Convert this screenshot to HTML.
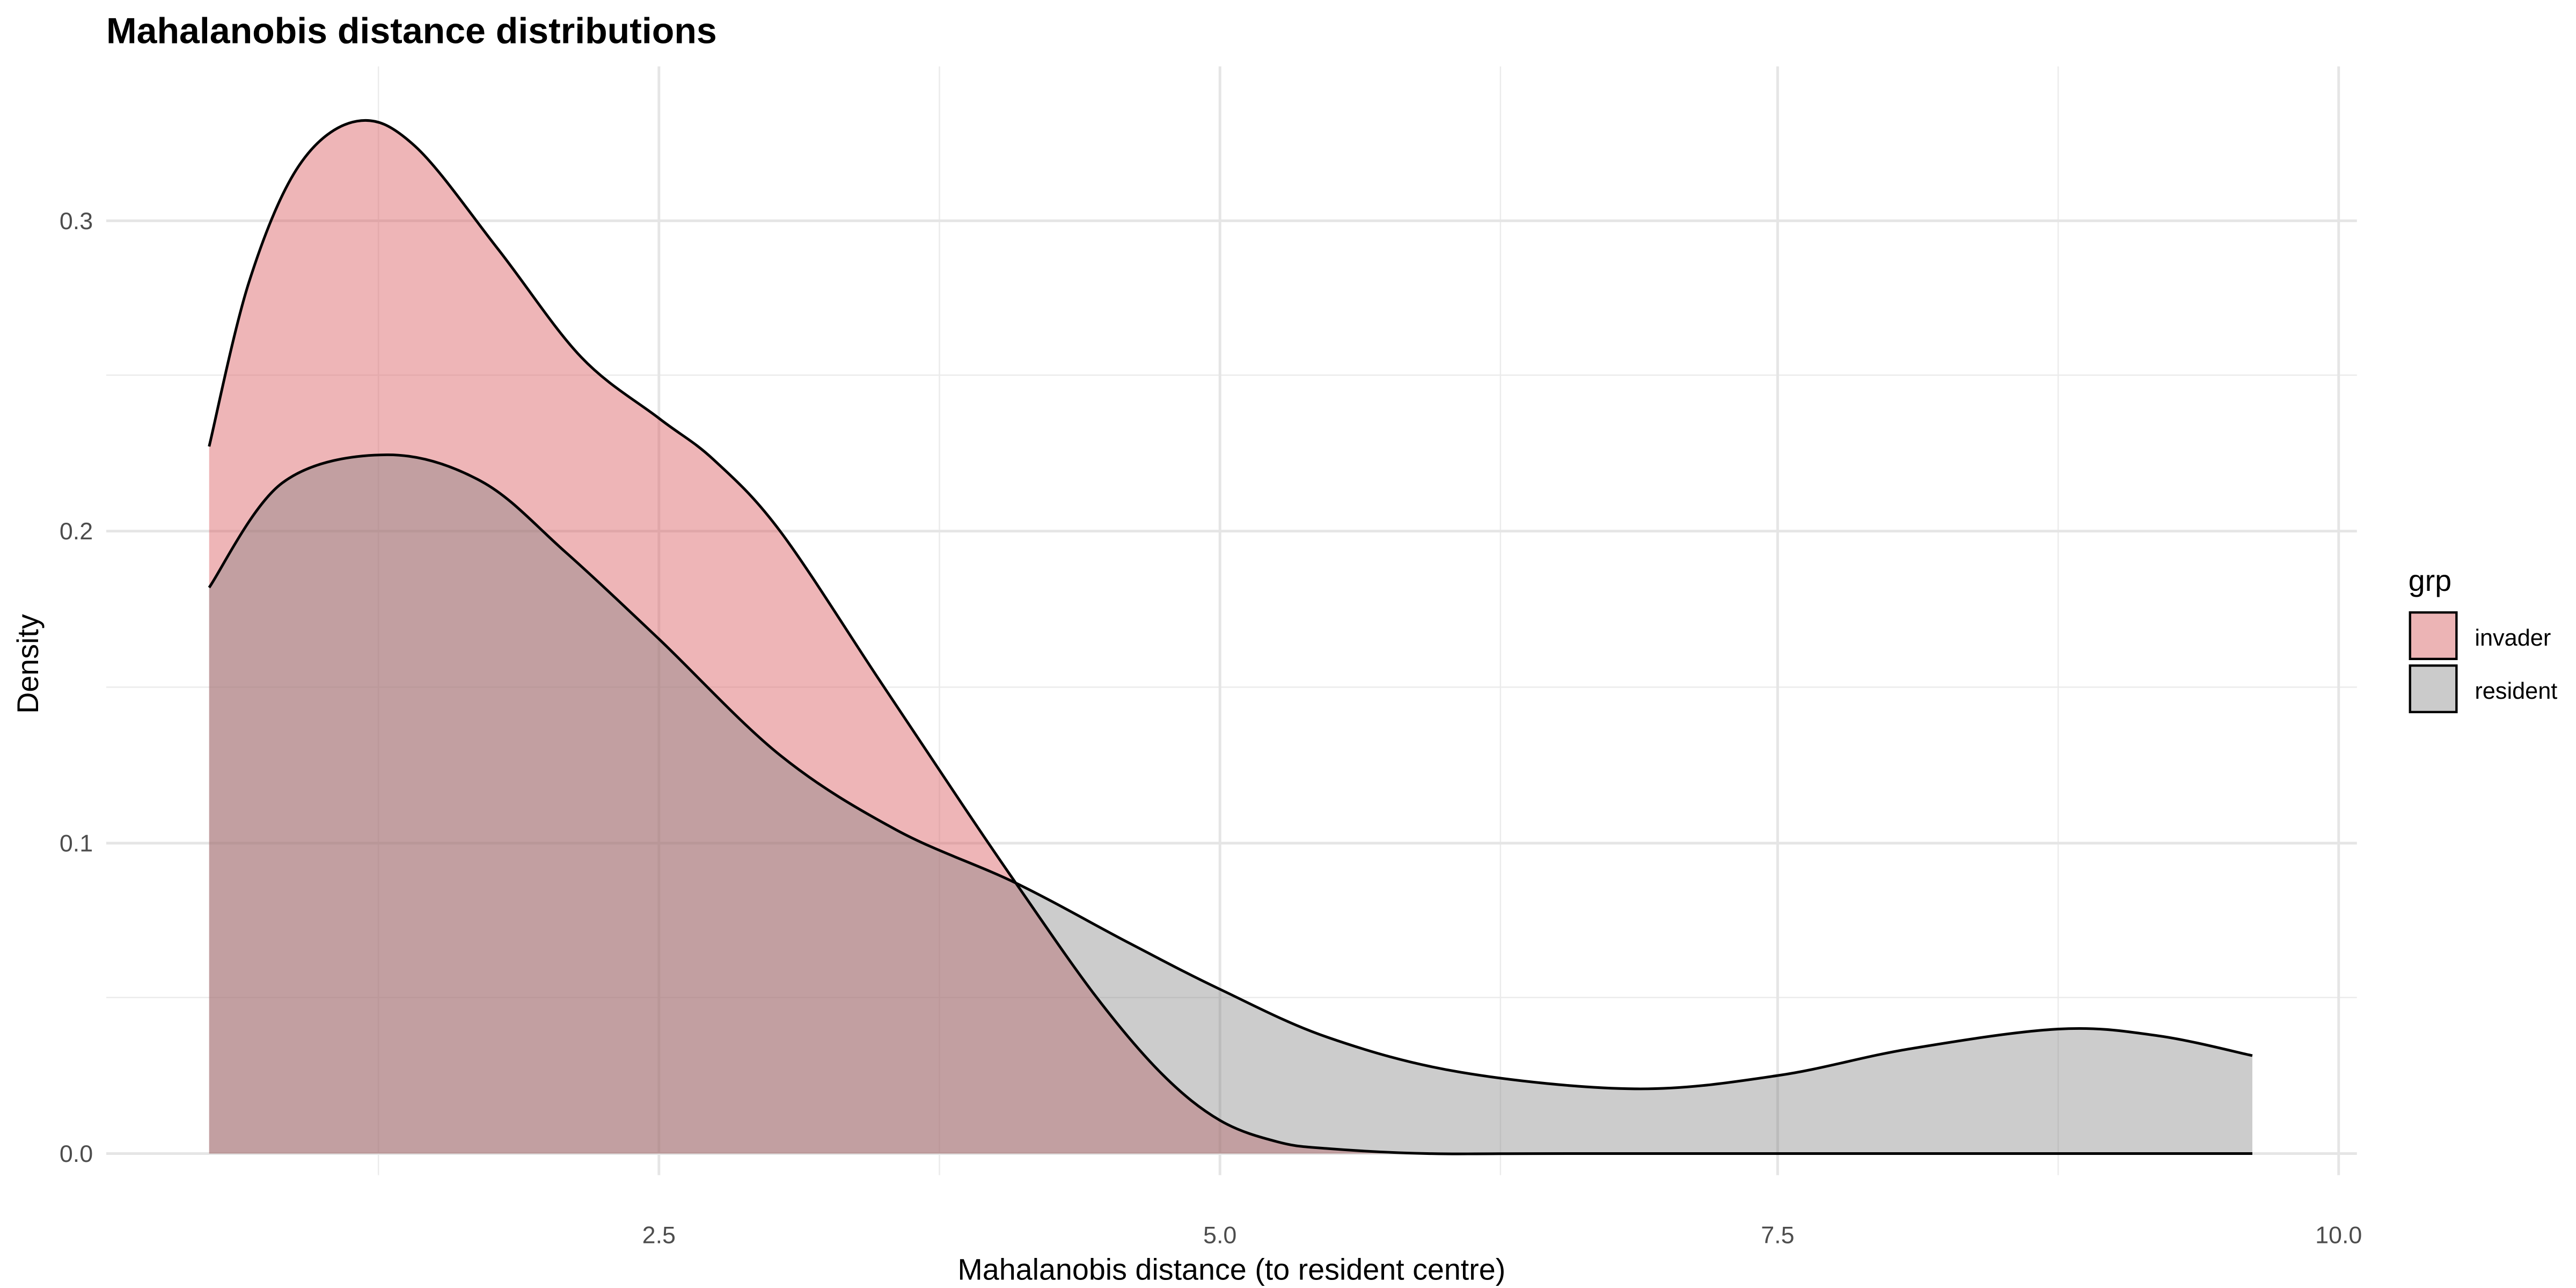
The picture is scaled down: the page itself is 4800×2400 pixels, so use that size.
<!DOCTYPE html>
<html><head><meta charset="utf-8"><style>
html,body{margin:0;padding:0;background:#fff;}
svg{display:block;}
text{font-family:"Liberation Sans",Arial,sans-serif;}
</style></head><body>
<svg id="s" width="4800" height="2400" viewBox="0 0 1552 776" xmlns="http://www.w3.org/2000/svg">
<rect width="1552" height="776" fill="#fff"/>
<g stroke="#ebebeb" stroke-width="0.8">
<line x1="64" x2="1420" y1="601" y2="601"/><line x1="64" x2="1420" y1="414" y2="414"/><line x1="64" x2="1420" y1="226" y2="226"/>
<line x1="228" x2="228" y1="40" y2="708"/><line x1="566" x2="566" y1="40" y2="708"/><line x1="904" x2="904" y1="40" y2="708"/><line x1="1240" x2="1240" y1="40" y2="708"/>
</g>
<g stroke="#e5e5e5" stroke-width="1.6">
<line x1="64" x2="1420" y1="695" y2="695"/><line x1="64" x2="1420" y1="508" y2="508"/><line x1="64" x2="1420" y1="320" y2="320"/><line x1="64" x2="1420" y1="133" y2="133"/>
<line x1="397" x2="397" y1="40" y2="708"/><line x1="735" x2="735" y1="40" y2="708"/><line x1="1071" x2="1071" y1="40" y2="708"/><line x1="1409" x2="1409" y1="40" y2="708"/>
</g>
<path id="inv" fill="rgb(220,100,105)" fill-opacity="0.48" stroke="none"/>
<path id="res" fill="rgb(128,128,128)" fill-opacity="0.4" stroke="none"/>
<path id="invl" fill="none" stroke="#000" stroke-width="1.6"/>
<path id="resl" fill="none" stroke="#000" stroke-width="1.6"/>
<g fill="#4d4d4d" font-size="14.5" text-anchor="end">
<text x="56" y="700">0.0</text><text x="56" y="513">0.1</text><text x="56" y="325">0.2</text><text x="56" y="138">0.3</text>
</g>
<g fill="#4d4d4d" font-size="14.5" text-anchor="middle">
<text x="397" y="749">2.5</text><text x="735" y="749">5.0</text><text x="1071" y="749">7.5</text><text x="1409" y="749">10.0</text>
</g>
<text x="742" y="771" font-size="18" text-anchor="middle" fill="#000">Mahalanobis distance (to resident centre)</text>
<text transform="translate(23,400) rotate(-90)" font-size="18" text-anchor="middle" fill="#000">Density</text>
<text x="64" y="26" font-size="22" font-weight="bold" fill="#000">Mahalanobis distance distributions</text>
<text x="1451" y="356" font-size="18" fill="#000">grp</text>
<rect x="1452" y="369" width="28" height="28" fill="#ecb4b5" stroke="#000" stroke-width="1.4"/>
<rect x="1452" y="401" width="28" height="28" fill="#cbcbcb" stroke="#000" stroke-width="1.4"/>
<text x="1491" y="389" font-size="14" fill="#000">invader</text>
<text x="1491" y="421" font-size="14" fill="#000">resident</text>
</svg>
<script>
function cr(p){var d="M"+p[0][0]+","+p[0][1];for(var i=0;i<p.length-1;i++){var p0=p[Math.max(0,i-1)],p1=p[i],p2=p[i+1],p3=p[Math.min(p.length-1,i+2)];
d+=" C"+(p1[0]+(p2[0]-p0[0])/6)+","+(p1[1]+(p2[1]-p0[1])/6)+" "+(p2[0]-(p3[0]-p1[0])/6)+","+(p2[1]-(p3[1]-p1[1])/6)+" "+p2[0]+","+p2[1];}return d;}
var inv=[[126,269],[150,170],[180,100],[215,73],[250,88],[300,150],[350,215],[397,252],[430,277],[470,320],[530,410],[580,485],[612,532],[660,600],[700,647],[735,675],[770,688],[800,692],[860,695],[950,695],[1357,695]];
var res=[[126,354],[170,291],[233,274],[290,290],[340,332],[397,385],[470,455],[540,500],[612,532],[680,568],[735,596],[800,625],[880,646],[985,656],[1071,648],[1150,632],[1240,620],[1300,624],[1357,636]];
var di=cr(inv),dr=cr(res);
document.getElementById("inv").setAttribute("d",di+" L1357,695 L126,695 Z");
document.getElementById("res").setAttribute("d",dr+" L1357,695 L126,695 Z");
document.getElementById("invl").setAttribute("d",di);
document.getElementById("resl").setAttribute("d",dr);
</script>
</body></html>
